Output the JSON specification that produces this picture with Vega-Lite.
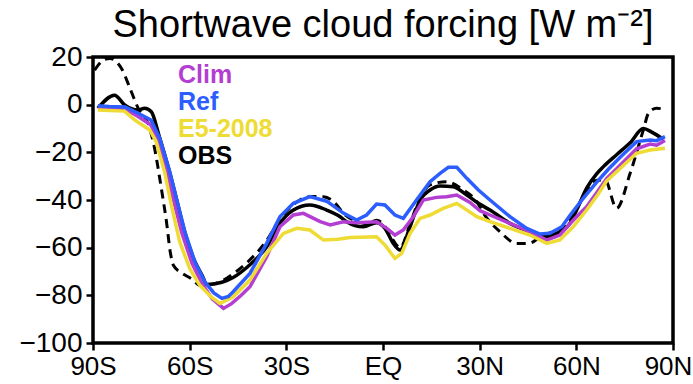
{
  "$schema": "https://vega.github.io/schema/vega-lite/v6.json",
  "autosize": {"type": "none"},
  "width": 580,
  "height": 286,
  "padding": {"left": 93, "top": 57, "right": 20, "bottom": 41},
  "background": "white",
  "title": {"text": "Shortwave cloud forcing [W m⁻²]", "font": "Liberation Sans", "fontSize": 38, "fontWeight": "normal", "color": "black", "anchor": "middle", "offset": -2},
  "config": {
    "view": {"stroke": "black", "strokeWidth": 3.5},
    "axis": {"grid": false, "domain": false, "tickColor": "black", "tickWidth": 2.5, "tickSize": 7, "labelFont": "Liberation Sans", "labelFontSize": 26, "labelColor": "black", "labelFlush": false, "labelOverlap": false, "title": null}
  },
  "data": {"values": [
    {"s":"Ref","lat":-88.5,"v":-0.5},{"s":"Ref","lat":-85,"v":-0.8},{"s":"Ref","lat":-80,"v":-1},{"s":"Ref","lat":-76,"v":-3.6},{"s":"Ref","lat":-72,"v":-6.4},{"s":"Ref","lat":-69.3,"v":-14},{"s":"Ref","lat":-66.2,"v":-28},{"s":"Ref","lat":-64.1,"v":-39.3},{"s":"Ref","lat":-61.5,"v":-53.3},{"s":"Ref","lat":-58.4,"v":-65.9},{"s":"Ref","lat":-55.3,"v":-74.3},{"s":"Ref","lat":-52.5,"v":-79},{"s":"Ref","lat":-50,"v":-81.3},{"s":"Ref","lat":-48,"v":-80.5},{"s":"Ref","lat":-46.5,"v":-78.5},{"s":"Ref","lat":-41.3,"v":-70.8},{"s":"Ref","lat":-36.1,"v":-58.2},{"s":"Ref","lat":-32,"v":-47},{"s":"Ref","lat":-27.8,"v":-41.4},{"s":"Ref","lat":-22.7,"v":-38.6},{"s":"Ref","lat":-17.5,"v":-40.5},{"s":"Ref","lat":-12.3,"v":-45.5},{"s":"Ref","lat":-8.2,"v":-48.4},{"s":"Ref","lat":-5.1,"v":-46.3},{"s":"Ref","lat":-2,"v":-41.7},{"s":"Ref","lat":0.6,"v":-42.1},{"s":"Ref","lat":3.7,"v":-46.3},{"s":"Ref","lat":6.3,"v":-47.7},{"s":"Ref","lat":10.4,"v":-40},{"s":"Ref","lat":14.6,"v":-32.3},{"s":"Ref","lat":17.7,"v":-28.8},{"s":"Ref","lat":20.3,"v":-26.3},{"s":"Ref","lat":22.9,"v":-26.3},{"s":"Ref","lat":26,"v":-30.9},{"s":"Ref","lat":29.6,"v":-35.8},{"s":"Ref","lat":33.2,"v":-40},{"s":"Ref","lat":39.4,"v":-47},{"s":"Ref","lat":44.6,"v":-51.9},{"s":"Ref","lat":48.7,"v":-54.3},{"s":"Ref","lat":51.8,"v":-54},{"s":"Ref","lat":55.5,"v":-51.2},{"s":"Ref","lat":58,"v":-46.5},{"s":"Ref","lat":62,"v":-39.5},{"s":"Ref","lat":66,"v":-33},{"s":"Ref","lat":70,"v":-27},{"s":"Ref","lat":74,"v":-21.5},{"s":"Ref","lat":78.7,"v":-15.5},{"s":"Ref","lat":82.9,"v":-14.8},{"s":"Ref","lat":84.9,"v":-15.1},{"s":"Ref","lat":87.5,"v":-13.4},

    {"s":"Clim","lat":-88.5,"v":-1},{"s":"Clim","lat":-85,"v":-1.2},{"s":"Clim","lat":-80,"v":-1.8},{"s":"Clim","lat":-76,"v":-5},{"s":"Clim","lat":-72,"v":-8.5},{"s":"Clim","lat":-69.8,"v":-15},{"s":"Clim","lat":-67,"v":-28},{"s":"Clim","lat":-65,"v":-40},{"s":"Clim","lat":-62.4,"v":-54},{"s":"Clim","lat":-59.3,"v":-66.5},{"s":"Clim","lat":-56.2,"v":-75},{"s":"Clim","lat":-53,"v":-81.5},{"s":"Clim","lat":-49.5,"v":-85.5},{"s":"Clim","lat":-47,"v":-83.5},{"s":"Clim","lat":-44,"v":-80},{"s":"Clim","lat":-41.3,"v":-76.4},{"s":"Clim","lat":-36.1,"v":-63.8},{"s":"Clim","lat":-32,"v":-51.2},{"s":"Clim","lat":-27.8,"v":-46.3},{"s":"Clim","lat":-24.7,"v":-45.6},{"s":"Clim","lat":-19.5,"v":-49.1},{"s":"Clim","lat":-16.4,"v":-50.5},{"s":"Clim","lat":-12.3,"v":-49.1},{"s":"Clim","lat":-8.2,"v":-49.5},{"s":"Clim","lat":-2,"v":-49.1},{"s":"Clim","lat":1.2,"v":-51.9},{"s":"Clim","lat":3.7,"v":-54.7},{"s":"Clim","lat":6.3,"v":-52.6},{"s":"Clim","lat":9.4,"v":-47},{"s":"Clim","lat":12.5,"v":-40},{"s":"Clim","lat":16.6,"v":-38.9},{"s":"Clim","lat":19.7,"v":-38.6},{"s":"Clim","lat":22.9,"v":-37.9},{"s":"Clim","lat":27,"v":-41},{"s":"Clim","lat":30.1,"v":-44.5},{"s":"Clim","lat":33.2,"v":-46.3},{"s":"Clim","lat":39.4,"v":-49.8},{"s":"Clim","lat":45.6,"v":-53.3},{"s":"Clim","lat":50.8,"v":-56.8},{"s":"Clim","lat":54.9,"v":-54.7},{"s":"Clim","lat":59.1,"v":-48.4},{"s":"Clim","lat":63.2,"v":-42.8},{"s":"Clim","lat":66.8,"v":-36},{"s":"Clim","lat":69.4,"v":-31},{"s":"Clim","lat":74.6,"v":-24},{"s":"Clim","lat":78.7,"v":-18.5},{"s":"Clim","lat":82.9,"v":-16.5},{"s":"Clim","lat":84.9,"v":-17},{"s":"Clim","lat":87.5,"v":-15},

    {"s":"E5-2008","lat":-88.5,"v":-2.2},{"s":"E5-2008","lat":-85,"v":-2.4},{"s":"E5-2008","lat":-80.2,"v":-2.7},{"s":"E5-2008","lat":-77.1,"v":-6.4},{"s":"E5-2008","lat":-72.4,"v":-10.6},{"s":"E5-2008","lat":-70.4,"v":-15.5},{"s":"E5-2008","lat":-67.8,"v":-28.1},{"s":"E5-2008","lat":-65.7,"v":-42.1},{"s":"E5-2008","lat":-63.1,"v":-57.5},{"s":"E5-2008","lat":-60,"v":-68.7},{"s":"E5-2008","lat":-56.9,"v":-75.7},{"s":"E5-2008","lat":-53.5,"v":-80.5},{"s":"E5-2008","lat":-50.6,"v":-83.4},{"s":"E5-2008","lat":-46.5,"v":-80.6},{"s":"E5-2008","lat":-41.3,"v":-73.6},{"s":"E5-2008","lat":-36.1,"v":-62.4},{"s":"E5-2008","lat":-30.9,"v":-54},{"s":"E5-2008","lat":-26.8,"v":-51.9},{"s":"E5-2008","lat":-22.7,"v":-52.6},{"s":"E5-2008","lat":-18.5,"v":-56.8},{"s":"E5-2008","lat":-14,"v":-56.5},{"s":"E5-2008","lat":-10.2,"v":-55.7},{"s":"E5-2008","lat":-2,"v":-55.4},{"s":"E5-2008","lat":0.6,"v":-58.9},{"s":"E5-2008","lat":3.7,"v":-64.5},{"s":"E5-2008","lat":5.8,"v":-62.4},{"s":"E5-2008","lat":8.4,"v":-54},{"s":"E5-2008","lat":11.5,"v":-47.7},{"s":"E5-2008","lat":14.6,"v":-46.3},{"s":"E5-2008","lat":18.7,"v":-43.5},{"s":"E5-2008","lat":22.9,"v":-41.4},{"s":"E5-2008","lat":29.1,"v":-47},{"s":"E5-2008","lat":33.2,"v":-49.1},{"s":"E5-2008","lat":39.4,"v":-51.9},{"s":"E5-2008","lat":45.6,"v":-54.7},{"s":"E5-2008","lat":50.8,"v":-58.2},{"s":"E5-2008","lat":54.9,"v":-56.8},{"s":"E5-2008","lat":59.1,"v":-51.2},{"s":"E5-2008","lat":63.2,"v":-44.2},{"s":"E5-2008","lat":66.8,"v":-37.5},{"s":"E5-2008","lat":69.4,"v":-32},{"s":"E5-2008","lat":74.6,"v":-25.5},{"s":"E5-2008","lat":78.7,"v":-20.4},{"s":"E5-2008","lat":82.9,"v":-19},{"s":"E5-2008","lat":87.5,"v":-18.3},

    {"s":"OBS","lat":-88.5,"v":-1.5},{"s":"OBS","lat":-83.3,"v":4},{"s":"OBS","lat":-80.2,"v":-0.1},{"s":"OBS","lat":-76,"v":-2.2},{"s":"OBS","lat":-74,"v":-1.5},{"s":"OBS","lat":-71.9,"v":-3},{"s":"OBS","lat":-69.5,"v":-13},{"s":"OBS","lat":-66.5,"v":-27},{"s":"OBS","lat":-64.3,"v":-38.5},{"s":"OBS","lat":-61.8,"v":-52},{"s":"OBS","lat":-58.8,"v":-64.5},{"s":"OBS","lat":-56,"v":-72},{"s":"OBS","lat":-54.7,"v":-75.5},{"s":"OBS","lat":-50,"v":-74.5},{"s":"OBS","lat":-46.5,"v":-72.5},{"s":"OBS","lat":-42,"v":-68},{"s":"OBS","lat":-36.1,"v":-59.6},{"s":"OBS","lat":-32,"v":-49.8},{"s":"OBS","lat":-27.8,"v":-44.2},{"s":"OBS","lat":-22.7,"v":-42.1},{"s":"OBS","lat":-17.5,"v":-44.2},{"s":"OBS","lat":-13.3,"v":-47},{"s":"OBS","lat":-11.3,"v":-49.1},{"s":"OBS","lat":-6.1,"v":-51.2},{"s":"OBS","lat":-2,"v":-49.5},{"s":"OBS","lat":0.6,"v":-51.9},{"s":"OBS","lat":3.2,"v":-58.2},{"s":"OBS","lat":5.3,"v":-61},{"s":"OBS","lat":8.4,"v":-51.2},{"s":"OBS","lat":11.5,"v":-40},{"s":"OBS","lat":14.6,"v":-35.8},{"s":"OBS","lat":17.7,"v":-34.1},{"s":"OBS","lat":21.8,"v":-34.4},{"s":"OBS","lat":26,"v":-37.9},{"s":"OBS","lat":29.6,"v":-41.4},{"s":"OBS","lat":33.2,"v":-44.2},{"s":"OBS","lat":39.4,"v":-49.8},{"s":"OBS","lat":45.6,"v":-53.3},{"s":"OBS","lat":49.8,"v":-55.4},{"s":"OBS","lat":53.9,"v":-54},{"s":"OBS","lat":58,"v":-49.8},{"s":"OBS","lat":60.5,"v":-43},{"s":"OBS","lat":63.2,"v":-35},{"s":"OBS","lat":66.3,"v":-29},{"s":"OBS","lat":68.4,"v":-26},{"s":"OBS","lat":72.5,"v":-21},{"s":"OBS","lat":76.7,"v":-16},{"s":"OBS","lat":80.8,"v":-10},{"s":"OBS","lat":83.4,"v":-11.5},{"s":"OBS","lat":87,"v":-14.5},

    {"s":"OBS2","lat":-89.5,"v":14.5},{"s":"OBS2","lat":-87,"v":18.5},{"s":"OBS2","lat":-84.8,"v":19.4},{"s":"OBS2","lat":-81.2,"v":15.3},{"s":"OBS2","lat":-78.1,"v":5.4},{"s":"OBS2","lat":-76,"v":-1.5},{"s":"OBS2","lat":-72.4,"v":-9.9},{"s":"OBS2","lat":-70.9,"v":-18.3},{"s":"OBS2","lat":-68.8,"v":-35.1},{"s":"OBS2","lat":-67.2,"v":-49.1},{"s":"OBS2","lat":-66,"v":-62},{"s":"OBS2","lat":-65,"v":-67.5},{"s":"OBS2","lat":-62.6,"v":-70.5},{"s":"OBS2","lat":-59.5,"v":-73},{"s":"OBS2","lat":-56.4,"v":-76},{"s":"OBS2","lat":-54.7,"v":-75.7},{"s":"OBS2","lat":-50,"v":-74},{"s":"OBS2","lat":-46.5,"v":-71},{"s":"OBS2","lat":-42,"v":-66},{"s":"OBS2","lat":-36.1,"v":-57},{"s":"OBS2","lat":-32,"v":-48},{"s":"OBS2","lat":-27.8,"v":-42},{"s":"OBS2","lat":-25.8,"v":-40},{"s":"OBS2","lat":-22,"v":-38.5},{"s":"OBS2","lat":-18.5,"v":-38.6},{"s":"OBS2","lat":-14.4,"v":-42},{"s":"OBS2","lat":-12.3,"v":-45.6},{"s":"OBS2","lat":-8,"v":-49},{"s":"OBS2","lat":-5,"v":-50},{"s":"OBS2","lat":-2,"v":-48.5},{"s":"OBS2","lat":0.6,"v":-51},{"s":"OBS2","lat":3.2,"v":-57},{"s":"OBS2","lat":5.3,"v":-60},{"s":"OBS2","lat":8.4,"v":-50},{"s":"OBS2","lat":11.5,"v":-39},{"s":"OBS2","lat":14.6,"v":-33.7},{"s":"OBS2","lat":19.7,"v":-32.3},{"s":"OBS2","lat":24.9,"v":-35.8},{"s":"OBS2","lat":29.1,"v":-40.7},{"s":"OBS2","lat":31.2,"v":-45.6},{"s":"OBS2","lat":36.3,"v":-53.3},{"s":"OBS2","lat":41.5,"v":-58.2},{"s":"OBS2","lat":45.1,"v":-58.2},{"s":"OBS2","lat":49.8,"v":-54.7},{"s":"OBS2","lat":56,"v":-51.9},{"s":"OBS2","lat":59,"v":-46},{"s":"OBS2","lat":62.5,"v":-38},{"s":"OBS2","lat":65.5,"v":-32},{"s":"OBS2","lat":68.9,"v":-31.6},{"s":"OBS2","lat":72.5,"v":-43.5},{"s":"OBS2","lat":76.7,"v":-28.8},{"s":"OBS2","lat":80.8,"v":-10.6},{"s":"OBS2","lat":82.4,"v":-3.6},{"s":"OBS2","lat":84.9,"v":-1.5},{"s":"OBS2","lat":88,"v":-2.2}
  ]},
  "encoding": {
    "x": {"field": "lat", "type": "quantitative", "scale": {"domain": [-90, 90], "nice": false, "zero": false},
          "axis": {"values": [-90, -60, -30, 0, 30, 60, 90], "labelPadding": 3,
                   "labelOffset": {"condition": {"test": "datum.value == 90", "value": -5}, "value": 0},
                   "labelExpr": "datum.value == 0 ? 'EQ' : (abs(datum.value) + (datum.value < 0 ? 'S' : 'N'))"}},
    "y": {"field": "v", "type": "quantitative", "scale": {"domain": [-100, 20], "nice": false, "zero": false},
          "axis": {"values": [-100, -80, -60, -40, -20, 0, 20], "labelPadding": 4, "labelFontSize": 28}}
  },
  "layer": [
    {"transform": [{"filter": "datum.s == 'OBS2'"}],
     "mark": {"type": "line", "color": "black", "strokeWidth": 3, "strokeDash": [9, 6], "interpolate": "monotone"}},
    {"transform": [{"filter": "datum.s == 'OBS'"}],
     "mark": {"type": "line", "strokeWidth": 3.5, "interpolate": "monotone"},
     "encoding": {"color": {"field": "s", "type": "nominal"}}},
    {"transform": [{"filter": "datum.s == 'Clim'"}],
     "mark": {"type": "line", "strokeWidth": 3.5},
     "encoding": {"color": {"field": "s", "type": "nominal"}}},
    {"transform": [{"filter": "datum.s == 'E5-2008'"}],
     "mark": {"type": "line", "strokeWidth": 3.5},
     "encoding": {"color": {"field": "s", "type": "nominal"}}},
    {"transform": [{"filter": "datum.s == 'Ref'"}],
     "mark": {"type": "line", "strokeWidth": 3.5},
     "encoding": {"color": {"field": "s", "type": "nominal",
       "scale": {"domain": ["Clim", "Ref", "E5-2008", "OBS"], "range": ["#b43ed2", "#2b5dff", "#eedb34", "black"]},
       "legend": {"orient": "none", "legendX": 60, "legendY": 5, "title": null, "padding": 0,
                  "symbolSize": 1, "symbolOpacity": 0, "symbolStrokeWidth": 0, "labelOffset": 0,
                  "labelFont": "Liberation Sans", "labelFontSize": 25, "labelFontWeight": "bold", "rowPadding": 1,
                  "encode": {"labels": {"update": {"fill": {"scale": "color", "field": "value"}}}}}}}}
  ],
  "resolve": {"scale": {"color": "shared"}}
}
